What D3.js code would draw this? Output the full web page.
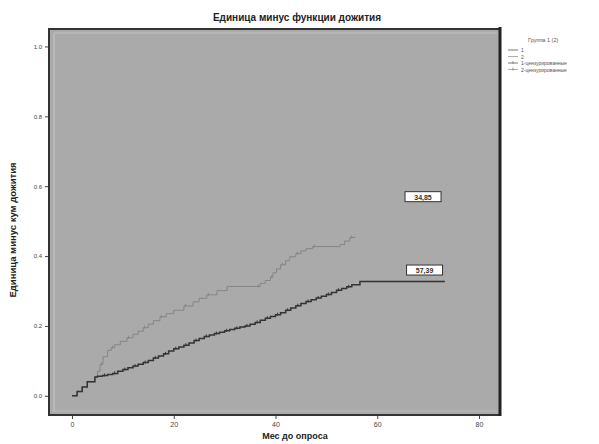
<!DOCTYPE html>
<html><head><meta charset="utf-8">
<script src="https://cdn.jsdelivr.net/npm/d3@7"></script>
<style>body{margin:0;background:#fff}svg{display:block}</style>
</head><body>
<script>
// Data
const group1Time = [0,1,2,3,4.5,5,6,7,8,9,10,11,12,13,14,15,16,17,18,19,20,21,22,23,24,25,26,27,28,29,30,31,32,33,34,35,36,37,38,39,40,41,42,43,44,45,46,47,48,49,50,51,52,53,54,55,56.6,73.3];
const group1Value = [0,0.012,0.025,0.04,0.054,0.056,0.058,0.061,0.064,0.07,0.075,0.08,0.085,0.09,0.095,0.101,0.108,0.114,0.12,0.128,0.135,0.14,0.145,0.151,0.158,0.164,0.17,0.174,0.178,0.182,0.186,0.19,0.193,0.197,0.2,0.205,0.21,0.216,0.222,0.227,0.232,0.238,0.245,0.251,0.258,0.264,0.27,0.275,0.28,0.285,0.29,0.296,0.302,0.307,0.312,0.318,0.327,0.327];
const group2Time = [0,1,2,3,4.5,5,5.5,6.1,7,7.7,8.4,9.5,10.8,12,13,14,15,16,17.3,18.5,20,22,23.8,25,26.5,28.5,30.5,36.3,37,38,39,39.5,40.2,41,42,42.8,44,45,46,47.3,52.7,53.6,54.6,55.6];
const group2Value = [0,0.012,0.025,0.04,0.054,0.07,0.09,0.112,0.13,0.138,0.146,0.156,0.166,0.176,0.185,0.195,0.205,0.215,0.226,0.235,0.245,0.257,0.269,0.279,0.289,0.301,0.313,0.313,0.322,0.33,0.34,0.352,0.363,0.375,0.387,0.398,0.407,0.415,0.421,0.427,0.433,0.443,0.453,0.456];
const xTicks = [0,20,40,60,80];
const yTicks = [0,0.2,0.4,0.6,0.8,1.0];
const yTickLabels = ["0.0","0.2","0.4","0.6","0.8","1.0"];
const boxLabels = ["34,85","57,39"];
const boxPos = [[69,0.57],[69.3,0.36]];
const legendTitle = "Группа 1 (2)";
const legendItems = ["1","2","1-цензурированные","2-цензурированные"];

const W=599,H=444;
const svg=d3.select("body").append("svg").attr("width",W).attr("height",H);
const pL=49,pR=500,pT=29,pB=415;
const x=d3.scaleLinear().domain([-4.52,84.13]).range([pL,pR]);
const y=d3.scaleLinear().domain([-0.055,1.05]).range([pB,pT]);

// plot background
svg.append("rect").attr("x",pL).attr("y",pT).attr("width",pR-pL).attr("height",pB-pT)
  .attr("fill","#aaaaaa");
// inner light lines
svg.append("line").attr("x1",pL+5).attr("x2",pL+5).attr("y1",pT+4).attr("y2",pB-3).attr("stroke","#c8c8c8").attr("stroke-width",1);
svg.append("line").attr("x1",pL+5).attr("x2",pR-3).attr("y1",pT+4).attr("y2",pT+4).attr("stroke","#c0c0c0").attr("stroke-width",1);
svg.append("line").attr("x1",pL+3).attr("x2",pR-3).attr("y1",pB-4).attr("y2",pB-4).attr("stroke","#bcbcbc").attr("stroke-width",1);
// frame
svg.append("rect").attr("x",pL).attr("y",pT).attr("width",pR-pL).attr("height",pB-pT)
  .attr("fill","none").attr("stroke","#333").attr("stroke-width",2);
svg.append("line").attr("x1",pR).attr("x2",pR).attr("y1",pT-2).attr("y2",pB+1).attr("stroke","#222").attr("stroke-width",3);

// axes
const yAxis=d3.axisLeft(y).tickValues(yTicks).tickFormat((d,i)=>yTickLabels[i]).tickSize(3);
const ga=svg.append("g").attr("transform",`translate(${pL-1},0)`).call(yAxis);
ga.select(".domain").remove();
ga.selectAll("text").attr("font-family","Liberation Sans, Arial").attr("font-size",6).attr("fill","#444");
ga.selectAll("line").attr("stroke","#444");
const xAxis=d3.axisBottom(x).tickValues(xTicks).tickSize(3);
const gx=svg.append("g").attr("transform",`translate(0,${pB+1})`).call(xAxis);
gx.select(".domain").remove();
gx.selectAll("text").attr("font-family","Liberation Sans, Arial").attr("font-size",7).attr("fill","#444");
gx.selectAll("line").attr("stroke","#444");

// curves
const line=d3.line().curve(d3.curveStepAfter);
const pts2=group2Time.map((t,i)=>[x(t),y(group2Value[i])]);
const pts1=group1Time.map((t,i)=>[x(t),y(group1Value[i])]);
svg.append("path").attr("d",line(pts2)).attr("fill","none").attr("stroke","#858585").attr("stroke-width",1);
svg.append("path").attr("d",line(pts1)).attr("fill","none").attr("stroke","#333").attr("stroke-width",1.5);
// censor marks
svg.append("g").selectAll("line").data(pts1.filter((d,i)=>i>4&&i%2===0&&i<pts1.length-2)).join("line")
  .attr("x1",d=>d[0]+2).attr("x2",d=>d[0]+2).attr("y1",d=>d[1]-2).attr("y2",d=>d[1]+1)
  .attr("stroke","#333").attr("stroke-width",1);
svg.append("g").selectAll("line").data(pts2.filter((d,i)=>i>5&&i%3===0)).join("line")
  .attr("x1",d=>d[0]+1.5).attr("x2",d=>d[0]+1.5).attr("y1",d=>d[1]-2).attr("y2",d=>d[1]+1)
  .attr("stroke","#858585").attr("stroke-width",1);

// label boxes
boxLabels.forEach((s,i)=>{
  const cx=x(boxPos[i][0]), cy=y(boxPos[i][1]);
  svg.append("rect").attr("x",cx-18).attr("y",cy-5).attr("width",36).attr("height",10)
    .attr("fill","#fff").attr("stroke","#333").attr("stroke-width",1);
  svg.append("text").attr("x",cx).attr("y",cy+3).attr("text-anchor","middle")
    .attr("font-family","Liberation Sans, Arial").attr("font-size",7).attr("font-weight","bold").attr("fill","#333").text(s);
});

// titles
svg.append("text").attr("x",297).attr("y",21).attr("text-anchor","middle")
  .attr("font-family","Liberation Sans, Arial").attr("font-weight","bold").attr("font-size",10).attr("fill","#222")
  .text("Единица минус функции дожития");
svg.append("text").attr("x",295).attr("y",439).attr("text-anchor","middle")
  .attr("font-family","Liberation Sans, Arial").attr("font-weight","bold").attr("font-size",9).attr("fill","#222")
  .text("Мес до опроса");
svg.append("text").attr("transform","translate(16,230) rotate(-90)").attr("text-anchor","middle")
  .attr("font-family","Liberation Sans, Arial").attr("font-weight","bold").attr("font-size",9.5).attr("fill","#222")
  .text("Единица минус кум дожития");

// legend
const lg=svg.append("g").attr("font-family","Liberation Sans, Arial").attr("fill","#555");
lg.append("text").attr("x",528).attr("y",42).attr("font-size",5.5).text(legendTitle);
legendItems.forEach((s,i)=>{
  const yy=50+i*6.5;
  lg.append("line").attr("x1",508).attr("x2",518).attr("y1",yy).attr("y2",yy)
    .attr("stroke",i%2===0?"#555":"#999").attr("stroke-width",0.8);
  if(i>=2) lg.append("line").attr("x1",513).attr("x2",513).attr("y1",yy-2).attr("y2",yy+1).attr("stroke","#777").attr("stroke-width",0.8);
  lg.append("text").attr("x",521).attr("y",yy+2).attr("font-size",5).text(s);
});
</script>
</body></html>
